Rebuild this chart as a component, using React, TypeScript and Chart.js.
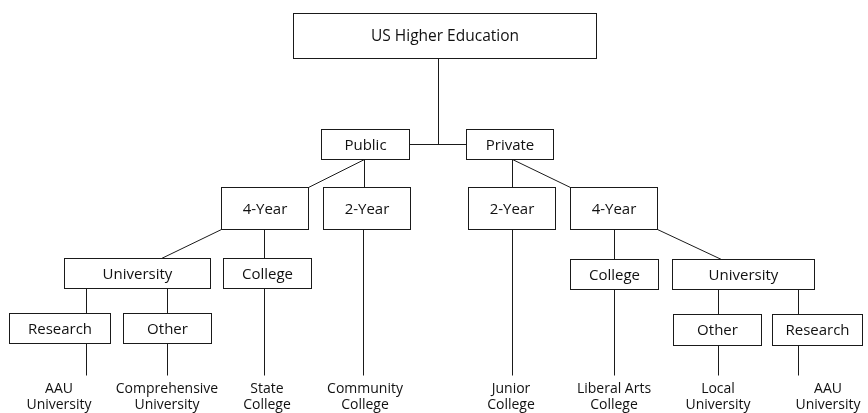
import React, { useEffect, useRef } from "react";
import { Chart, registerables } from "chart.js";

Chart.register(...registerables);

// Node boxes: label and extents in diagram units (x: left/right, y: top/bottom)
const nodeLabels = [
  "US Higher Education",
  "Public", "Private",
  "4-Year", "2-Year", "2-Year", "4-Year",
  "University", "College", "College", "University",
  "Research", "Other", "Other", "Research",
];
const nodeX0 = [293, 321, 466, 221, 323, 468, 570, 64, 223, 570, 672, 9, 123, 673, 772];
const nodeX1 = [596, 409, 553, 308, 410, 555, 657, 210, 311, 658, 814, 110, 211, 761, 862];
const nodeY0 = [13, 129, 129, 187, 187, 187, 187, 258, 258, 259, 259, 313, 313, 314, 314];
const nodeY1 = [58, 159, 159, 229, 229, 229, 229, 288, 288, 289, 289, 343, 343, 345, 345];

// Connector segments
const edgeX0 = [438, 409, 364, 364, 512, 512, 221, 264, 363, 86, 167, 86, 167, 264, 512, 614, 657, 614, 718, 798, 718, 798];
const edgeY0 = [58, 144, 159, 159, 159, 159, 229, 229, 229, 288, 288, 343, 343, 288, 229, 229, 229, 289, 289, 289, 345, 345];
const edgeX1 = [438, 466, 308, 364, 512, 570, 161, 264, 363, 86, 167, 86, 167, 264, 512, 614, 721, 614, 718, 798, 718, 798];
const edgeY1 = [144, 144, 187, 187, 187, 187, 258, 258, 375, 313, 313, 375, 375, 375, 375, 259, 259, 375, 314, 314, 375, 375];

// Leaf labels
const leafLine1 = ["AAU", "Comprehensive", "State", "Community", "Junior", "Liberal Arts", "Local", "AAU"];
const leafLine2 = ["University", "University", "College", "College", "College", "College", "University", "University"];
const leafX = [59, 167, 267, 365, 511, 614, 718, 828];
const leafY = [389, 389, 389, 389, 389, 389, 389, 389];

const FONT = '"Open Sans", "DejaVu Sans", sans-serif';

const treePlugin = {
  id: "treeDiagram",
  afterDatasetsDraw(chart: any) {
    const { ctx, scales } = chart;
    const xs = scales.x;
    const ys = scales.y;
    const px = (v: number) => xs.getPixelForValue(v);
    const py = (v: number) => ys.getPixelForValue(v);
    ctx.save();
    ctx.strokeStyle = "#1a1a1a";
    ctx.lineWidth = 1;
    // edges
    for (let i = 0; i < edgeX0.length; i++) {
      ctx.beginPath();
      ctx.moveTo(Math.round(px(edgeX0[i])) + 0.5, Math.round(py(edgeY0[i])) + 0.5);
      ctx.lineTo(Math.round(px(edgeX1[i])) + 0.5, Math.round(py(edgeY1[i])) + 0.5);
      ctx.stroke();
    }
    // boxes
    ctx.textAlign = "center";
    ctx.textBaseline = "middle";
    for (let i = 0; i < nodeLabels.length; i++) {
      const x0 = Math.round(px(nodeX0[i])) + 0.5;
      const x1 = Math.round(px(nodeX1[i])) + 0.5;
      const y0 = Math.round(py(nodeY0[i])) + 0.5;
      const y1 = Math.round(py(nodeY1[i])) + 0.5;
      ctx.fillStyle = "#ffffff";
      ctx.fillRect(x0, y0, x1 - x0, y1 - y0);
      ctx.strokeRect(x0, y0, x1 - x0, y1 - y0);
      ctx.fillStyle = "#111";
      ctx.font = (i === 0 ? "15.5px " : "15px ") + FONT;
      ctx.fillText(nodeLabels[i], (x0 + x1) / 2, (y0 + y1) / 2 + 1);
    }
    // leaves
    ctx.fillStyle = "#111";
    ctx.font = "14px " + FONT;
    for (let i = 0; i < leafLine1.length; i++) {
      const cx = px(leafX[i]);
      ctx.fillText(leafLine1[i], cx, py(leafY[i]));
      ctx.fillText(leafLine2[i], cx, py(leafY[i] + 16));
    }
    ctx.restore();
  },
};

export default function App() {
  const ref = useRef<HTMLCanvasElement | null>(null);
  useEffect(() => {
    document.body.style.margin = "0";
    const canvas = ref.current;
    if (!canvas) return;
    const chart = new Chart(canvas, {
      type: "scatter",
      data: { datasets: [{ data: [], pointRadius: 0 }] },
      options: {
        animation: false,
        responsive: false,
        maintainAspectRatio: false,
        layout: { padding: 0 },
        plugins: { legend: { display: false }, tooltip: { enabled: false } },
        scales: {
          x: { type: "linear", min: 0, max: 868, display: false },
          y: { type: "linear", min: 0, max: 413, reverse: true, display: false },
        },
      },
      plugins: [treePlugin],
    });
    return () => chart.destroy();
  }, []);
  return (
    <div style={{ width: 868, height: 413, background: "#fff" }}>
      <canvas ref={ref} width={868} height={413} style={{ display: "block" }} />
    </div>
  );
}
